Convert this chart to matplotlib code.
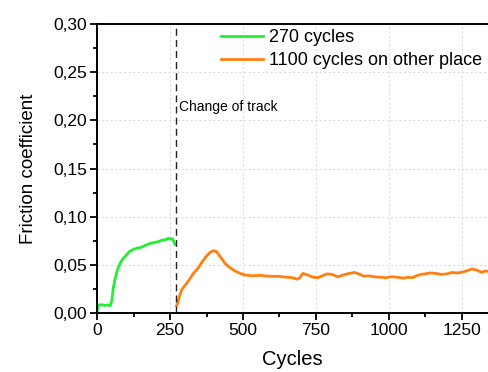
import numpy as np
import matplotlib.pyplot as plt
from matplotlib.ticker import FuncFormatter, MultipleLocator

plt.rcParams['font.family'] = ['Liberation Sans', 'DejaVu Sans']

# first run: 270 cycles
green_x = [0, 5, 15, 25, 35, 45, 50, 55, 62, 70, 78, 88, 100, 112, 125, 135, 150, 165, 180, 195, 210, 222, 235, 245, 252, 258, 263, 267]
green_y = [0.002, 0.008, 0.0085, 0.0078, 0.0082, 0.0075, 0.012, 0.025, 0.036, 0.045, 0.051, 0.056, 0.060, 0.064, 0.066, 0.067, 0.068, 0.070, 0.072, 0.073, 0.074, 0.0755, 0.076, 0.0775, 0.0765, 0.077, 0.074, 0.071]

# second run: 1100 cycles on another track
orange_x = [272, 276, 282, 290, 300, 315, 330, 345, 360, 375, 388, 398, 408, 418, 428, 440, 455, 470, 490, 505, 530, 560, 590, 620, 650, 670, 685, 695, 705, 720, 740, 757, 775, 790, 805, 825, 845, 865, 883, 900, 915, 930, 950, 970, 990, 1010, 1030, 1050, 1065, 1080, 1095, 1110, 1125, 1140, 1160, 1180, 1200, 1215, 1235, 1255, 1270, 1284, 1295, 1305, 1318, 1330, 1345]
orange_y = [0.0075, 0.0095, 0.017, 0.024, 0.028, 0.034, 0.041, 0.046, 0.053, 0.059, 0.063, 0.0645, 0.064, 0.060, 0.056, 0.051, 0.047, 0.044, 0.041, 0.0395, 0.0385, 0.039, 0.038, 0.038, 0.037, 0.0365, 0.035, 0.0365, 0.041, 0.0395, 0.037, 0.0365, 0.039, 0.0405, 0.040, 0.0375, 0.0395, 0.041, 0.042, 0.040, 0.038, 0.0385, 0.0375, 0.037, 0.0365, 0.0375, 0.037, 0.036, 0.037, 0.0365, 0.0385, 0.040, 0.0405, 0.0415, 0.041, 0.040, 0.0405, 0.042, 0.0415, 0.0425, 0.044, 0.0455, 0.045, 0.044, 0.042, 0.0435, 0.043]

track_change = 270

fig = plt.figure(figsize=(4.88, 3.72), dpi=100)
ax = fig.add_axes([0.199, 0.159, 0.801, 0.776])

ax.plot(green_x, green_y, color='#22ee33', lw=2, label='270 cycles')
ax.plot(orange_x, orange_y, color='#ff7f10', lw=2, label='1100 cycles on other place')
ax.axvline(track_change, color='#222222', lw=1, ls=(0, (5, 3)))
ax.text(track_change + 10, 0.214, 'Change of track', fontsize=10, va='center')

ax.set_xlim(0, 1340)
ax.set_ylim(0, 0.30)
ax.xaxis.set_major_locator(MultipleLocator(250))
ax.xaxis.set_minor_locator(MultipleLocator(125))
ax.yaxis.set_major_locator(MultipleLocator(0.05))
ax.yaxis.set_minor_locator(MultipleLocator(0.025))
ax.yaxis.set_major_formatter(FuncFormatter(lambda v, p: f'{v:.2f}'.replace('.', ',')))
ax.tick_params(which='major', direction='out', length=5, width=1.3, labelsize=12.5, pad=2)
ax.tick_params(which='minor', direction='out', length=3, width=1.3)
ax.grid(True, which='major', color='#dddddd', ls=(0, (2, 2)), lw=0.8)
for s in ax.spines.values():
    s.set_linewidth(1.4)
ax.spines['right'].set_visible(False)

ax.set_xlabel('Cycles', fontsize=14.5)
ax.set_ylabel('Friction coefficient', fontsize=13.5)
ax.xaxis.set_label_coords(0.5, -0.128)
ax.yaxis.set_label_coords(-0.155, 0.5)

ax.legend(loc='upper left', bbox_to_anchor=(0.318, 0.983), frameon=False, fontsize=13,
          handlelength=2.3, handletextpad=0.35, borderaxespad=0, borderpad=0, labelspacing=0.35)

fig.savefig('out.png', dpi=100)
